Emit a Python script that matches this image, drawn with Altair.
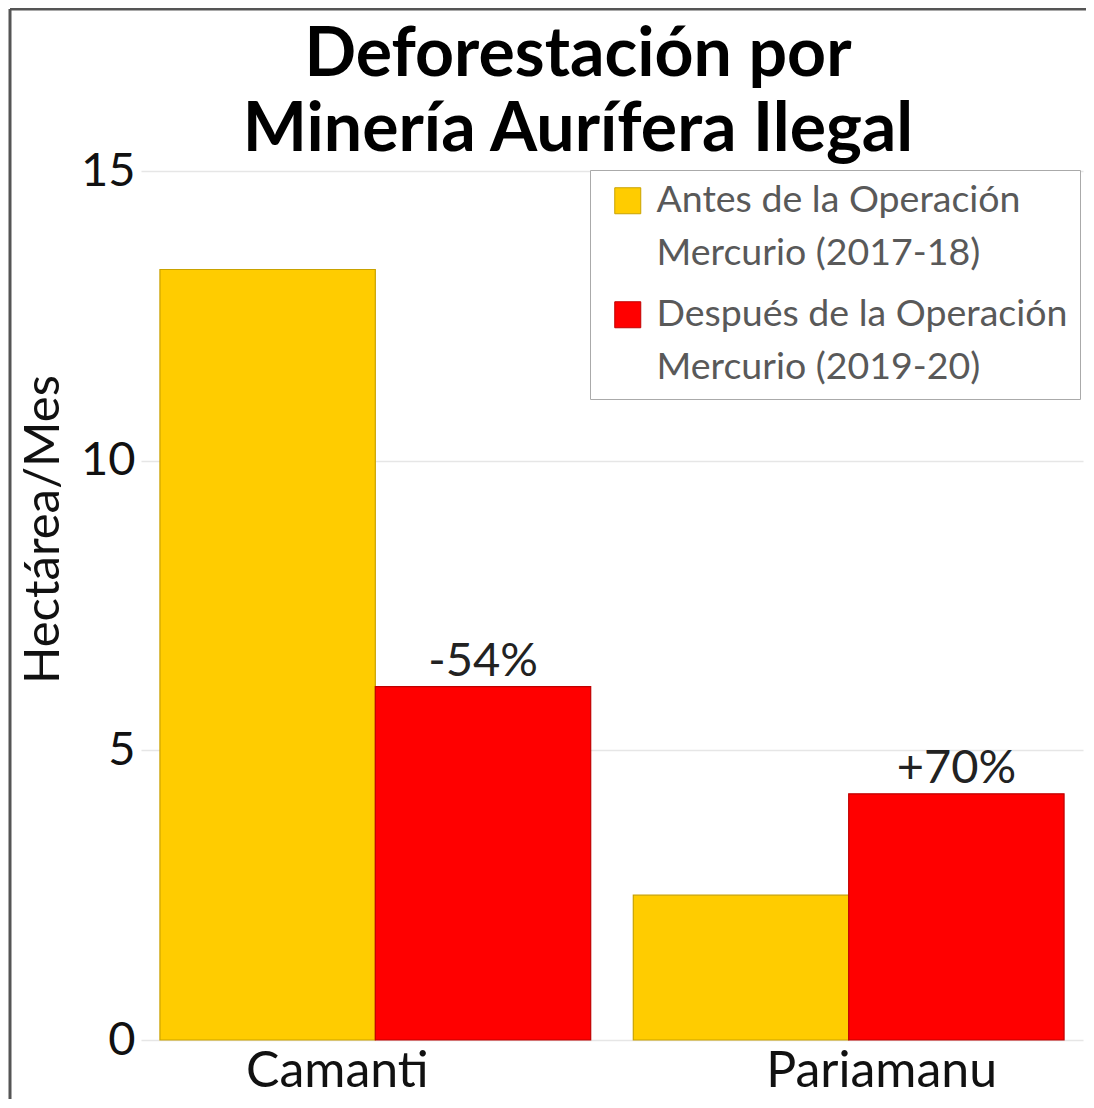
import altair as alt
import pandas as pd

regions = ["Camanti", "Pariamanu"]
periods = ["Antes de la Operación Mercurio (2017-18)",
           "Después de la Operación Mercurio (2019-20)"]
antes = [13.3, 2.5]
despues = [6.1, 4.25]
change_labels = ["-54%", "+70%"]
colors = ["#FFCC00", "#FF0000"]
strokes = ["#C9A200", "#C00000"]

rows = []
for i, r in enumerate(regions):
    rows.append({"region": r, "period": periods[0], "value": antes[i]})
    rows.append({"region": r, "period": periods[1], "value": despues[i]})
df = pd.DataFrame(rows)

lab = pd.DataFrame({"region": regions, "period": [periods[1]] * 2,
                    "value": despues, "label": change_labels})

W, H = 942, 869
PL, PT, PR, PB = 133, 163, 3, 59
FONT = "Lato"

x = alt.X("region:N", sort=regions, title=None,
          scale=alt.Scale(paddingInner=0.09, paddingOuter=0.04),
          axis=alt.Axis(labelAngle=0, labelFontSize=50, labelFont=FONT,
                        labelColor="#111", labelLimit=400, labelPadding=6,
                        labelOffset={"condition": {"test": "datum.value == 'Camanti'", "value": -38},
                                     "value": 33},
                        ticks=False, domain=False, grid=False))
xo = alt.XOffset("period:N", sort=periods, scale=alt.Scale(paddingInner=0, paddingOuter=0))
y = alt.Y("value:Q", title="Hectárea/Mes",
          scale=alt.Scale(domain=[0, 15], nice=False),
          axis=alt.Axis(values=[0, 5, 10, 15], format="d", labelFontSize=47, labelFont=FONT,
                        labelColor="#111", labelPadding=6, ticks=False, domain=False,
                        grid=True, gridColor="#e6e6e6", gridWidth=1.5,
                        titleFontSize=49, titleFont=FONT, titleFontWeight="normal",
                        titleColor="#111", titlePadding=12, titleY=358))

bars = alt.Chart(df).mark_bar(strokeWidth=1.2).encode(
    x=x, xOffset=xo, y=y,
    fill=alt.Fill("period:N", sort=periods,
                  scale=alt.Scale(domain=periods, range=colors),
                  legend=alt.Legend(title=None, orient="none", legendX=449, legendY=-1,
                                    labelExpr="split(replace(datum.label, ' Mercurio', '|Mercurio'), '|')",
                                    labelFont=FONT, labelFontSize=37.5, labelColor="#595959",
                                    labelBaseline="middle", labelOffset=10, labelLimit=600,
                                    symbolType="square", symbolSize=676, symbolOffset=7,
                                    symbolStrokeColor="#b08c00", symbolStrokeWidth=1,
                                    rowPadding=22, padding=12,
                                    strokeColor="#aaaaaa", fillColor="white")),
    stroke=alt.Stroke("period:N", sort=periods,
                      scale=alt.Scale(domain=periods, range=strokes), legend=None),
)

text = alt.Chart(lab).mark_text(baseline="alphabetic", dy=-11, fontSize=47, font=FONT,
                                color="#222").encode(
    x=alt.X("region:N", sort=regions), xOffset=alt.XOffset("period:N", sort=periods),
    y="value:Q", text="label:N")

frame_df = pd.DataFrame({"k": [0]})
left_edge = alt.Chart(frame_df).mark_rule(color="#555", strokeWidth=3).encode(
    x=alt.value(-131), y=alt.value(-162), y2=alt.value(H + PB))
top_edge = alt.Chart(frame_df).mark_rule(color="#555", strokeWidth=3).encode(
    x=alt.value(-131), x2=alt.value(W + PR), y=alt.value(-162))

chart = alt.layer(bars, text, left_edge, top_edge).properties(
    width=W, height=H,
    autosize=alt.AutoSizeParams(type="none"),
    padding={"left": PL, "top": PT, "right": PR, "bottom": PB},
    title=alt.TitleParams(text=["Deforestación por", "Minería Aurífera Ilegal"],
                          font=FONT, fontSize=68, fontWeight="bold", color="black",
                          anchor="middle", dx=-34, offset=-157, lineHeight=75),
).configure(style={"guide-label": {"lineHeight": 53}},
            view=alt.ViewConfig(strokeWidth=0))

chart.save("out.html", embed_options={"renderer": "svg", "actions": False})
